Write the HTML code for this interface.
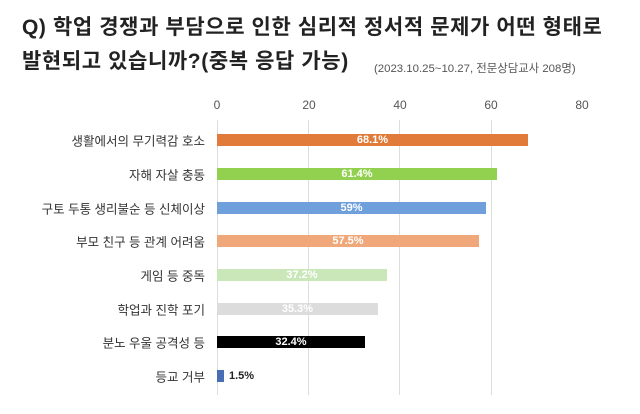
<!DOCTYPE html><html><head><meta charset="utf-8"><style>
body{margin:0;width:640px;height:414px;background:#fff;font-family:"Liberation Sans","Noto Sans CJK KR",sans-serif;position:relative;overflow:hidden}
.t{position:absolute;left:22px;font-size:21px;letter-spacing:0.6px;font-weight:bold;color:#222;white-space:nowrap}
.s{position:absolute;left:374px;top:60px;font-size:11.4px;color:#555}
.ax{position:absolute;top:98px;font-size:12px;color:#555;transform:translateX(-50%)}
.g{position:absolute;top:120px;height:275px;width:1px;background:#ddd}
.l{position:absolute;right:435px;font-size:12.5px;color:#333;white-space:nowrap;transform:translateY(-50%)}
.b{position:absolute;left:217px;height:12px;transform:translateY(-50%);color:#fff;font-size:11px;font-weight:bold;text-align:center;line-height:12px}
</style></head><body>
<div class="t" style="top:11px">Q) 학업 경쟁과 부담으로 인한 심리적 정서적 문제가 어떤 형태로</div>
<div class="t" style="top:45px">발현되고 있습니까?(중복 응답 가능)</div>
<div class="s">(2023.10.25~10.27, 전문상담교사 208명)</div>
<div class="ax" style="left:217px">0</div><div class="ax" style="left:309px">20</div><div class="ax" style="left:400px">40</div><div class="ax" style="left:491px">60</div><div class="ax" style="left:582px">80</div>
<div class="g" style="left:217px"></div><div class="g" style="left:308px"></div><div class="g" style="left:399px"></div><div class="g" style="left:491px"></div>
<div class="l" style="top:140px">생활에서의 무기력감 호소</div>
<div class="l" style="top:174px">자해 자살 충동</div>
<div class="l" style="top:208px">구토 두통 생리불순 등 신체이상</div>
<div class="l" style="top:241px">부모 친구 등 관계 어려움</div>
<div class="l" style="top:275px">게임 등 중독</div>
<div class="l" style="top:309px">학업과 진학 포기</div>
<div class="l" style="top:342px">분노 우울 공격성 등</div>
<div class="l" style="top:376px">등교 거부</div>
<div class="b" style="top:140px;width:311px;background:#e07b39">68.1%</div>
<div class="b" style="top:174px;width:280px;background:#92d050">61.4%</div>
<div class="b" style="top:208px;width:269px;background:#6fa0dc">59%</div>
<div class="b" style="top:241px;width:262px;background:#f0a77a">57.5%</div>
<div class="b" style="top:275px;width:170px;background:#c9e7b8">37.2%</div>
<div class="b" style="top:309px;width:161px;background:#dcdcdc">35.3%</div>
<div class="b" style="top:342px;width:148px;background:#000">32.4%</div>
<div class="b" style="top:376px;width:7px;background:#4a6eb5"></div>
<div style="position:absolute;left:229px;top:376px;transform:translateY(-50%);font-size:11px;font-weight:bold;color:#222">1.5%</div>
</body></html>
